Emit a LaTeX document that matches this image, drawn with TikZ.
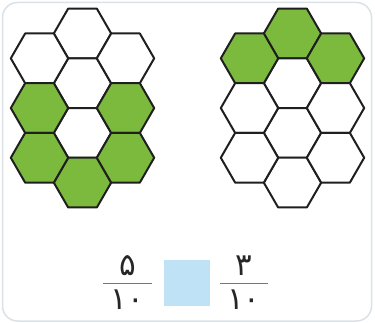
\documentclass[tikz,border=0pt]{standalone}
\usepackage{fontspec}
\usepackage{xcolor}
\usetikzlibrary{shapes.geometric}
\newfontfamily\farsi[Script=Arabic]{DejaVu Sans}

\definecolor{cellgreen}{RGB}{124,186,62}
\definecolor{framegray}{RGB}{218,226,231}
\definecolor{barred}{RGB}{226,72,80}
\definecolor{boxblue}{RGB}{192,226,246}

\begin{document}
\begin{tikzpicture}[
    x=1pt,y=-1pt,
    hexcell/.style={regular polygon,regular polygon sides=6,minimum size=57.4pt,inner sep=0pt,
      draw=black!88,line width=2pt,line join=round},
    digit/.style={font=\farsi\fontsize{31}{32}\selectfont,inner sep=0pt,text=black!85},
    fracbar/.style={draw=barred,line width=1.6pt}
  ]
    \useasboundingbox (0,0) rectangle (375,323);
    \draw[framegray,line width=1.5pt,fill=white,rounded corners=15pt] (2.5,2.5) rectangle (371.5,321);
    % left honeycomb: 5 of 10 shaded
    \foreach \c/\r/\f [count=\i] in {0/0/white,0/2/white,0/4/white,0/6/cellgreen,
        -1/1/white,-1/3/cellgreen,-1/5/cellgreen,1/1/white,1/3/cellgreen,1/5/cellgreen}
      \node[hexcell,fill=\f] (L\i) at (82.5+\c*43,33.5+\r*24.85) {};
    % right honeycomb: 3 of 10 shaded
    \foreach \c/\r/\f [count=\i] in {0/0/cellgreen,0/2/white,0/4/white,0/6/white,
        -1/1/cellgreen,-1/3/white,-1/5/white,1/1/cellgreen,1/3/white,1/5/white}
      \node[hexcell,fill=\f] (R\i) at (292.5+\c*43,33.5+\r*24.85) {};
    % fractions and the empty box
    \node[digit] (numL) at (127.5,266) {۵};
    \node[digit] (denL) at (127.5,299.5) {۱۰};
    \coordinate (barLa) at (103,283.5);
    \coordinate (barLb) at (152,283.5);
    \draw[fracbar] (barLa) -- (barLb);
    \node[fill=boxblue,minimum size=46pt,inner sep=0pt] (answer) at (187,283) {};
    \node[digit] (numR) at (244,266) {۳};
    \node[digit] (denR) at (244,299.5) {۱۰};
    \coordinate (barRa) at (220,283.5);
    \coordinate (barRb) at (268,283.5);
    \draw[fracbar] (barRa) -- (barRb);
  \end{tikzpicture}
\end{document}
